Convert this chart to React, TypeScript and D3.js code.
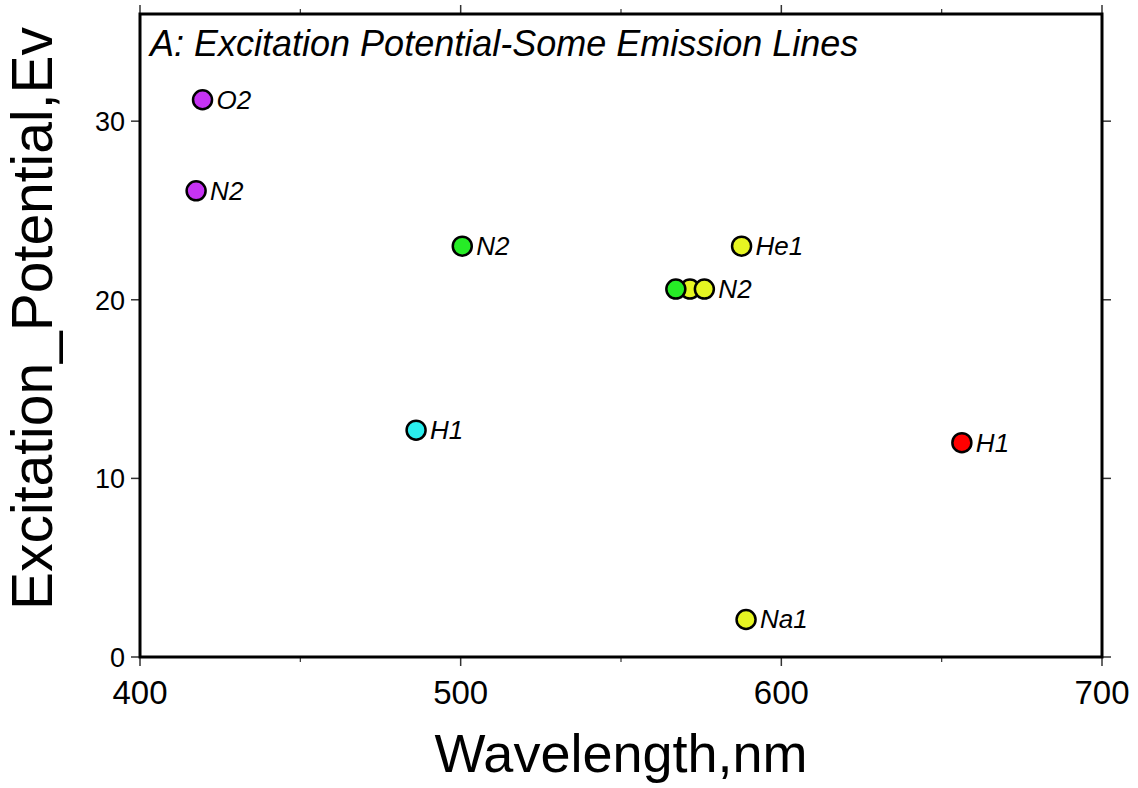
import React from "react";
import * as d3 from "d3";

// Emission lines: wavelength (nm), excitation potential (eV), species label, marker colour
const wavelengths = [419.5, 417.5, 500.5, 486.1, 587.6, 571.5, 567.1, 576.0, 656.3, 589.0];
const potentials = [31.2, 26.1, 23.0, 12.7, 23.0, 20.6, 20.6, 20.6, 12.0, 2.1];
const labels = ["O2", "N2", "N2", "H1", "He1", "", "", "N2", "H1", "Na1"];
const colors = [
  "#c633f3",
  "#c633f3",
  "#26ec26",
  "#2aeeee",
  "#e6f522",
  "#e6f522",
  "#26ec26",
  "#e6f522",
  "#ff0000",
  "#e6f522",
];

const xTicks = [400, 500, 600, 700];
const xMinorTicks = [450, 550, 650];
const yTicks = [0, 10, 20, 30];

const W = 1138;
const H = 788;
const margin = { left: 140, right: 36, top: 14, bottom: 131 };
const FONT = "'Liberation Sans', Arial, Helvetica, sans-serif";

export default function App() {
  const x = d3
    .scaleLinear()
    .domain([400, 700])
    .range([margin.left, W - margin.right]);
  const y = d3
    .scaleLinear()
    .domain([0, 36])
    .range([H - margin.bottom, margin.top]);

  const [x0, x1] = x.range();
  const [y0, y1] = y.range();
  const major = 9;
  const minor = 5;
  const tickStroke = "#333";

  return (
    <svg
      width={W}
      height={H}
      style={{ position: "fixed", left: 0, top: 0, background: "#fff" }}
      fontFamily={FONT}
    >
      {/* ticks on all four sides, pointing outward */}
      {xTicks.map((t) => (
        <g key={"xt" + t}>
          <line x1={x(t)} x2={x(t)} y1={y0} y2={y0 + major} stroke={tickStroke} strokeWidth={1.5} />
          <line x1={x(t)} x2={x(t)} y1={y1} y2={y1 - major} stroke={tickStroke} strokeWidth={1.5} />
          <text x={x(t)} y={y0 + 47} textAnchor="middle" fontSize={33} fill="#000">
            {t}
          </text>
        </g>
      ))}
      {xMinorTicks.map((t) => (
        <g key={"xm" + t}>
          <line x1={x(t)} x2={x(t)} y1={y0} y2={y0 + minor} stroke={tickStroke} strokeWidth={1.2} />
          <line x1={x(t)} x2={x(t)} y1={y1} y2={y1 - minor} stroke={tickStroke} strokeWidth={1.2} />
        </g>
      ))}
      {yTicks.map((t) => (
        <g key={"yt" + t}>
          <line x1={x0} x2={x0 - major} y1={y(t)} y2={y(t)} stroke={tickStroke} strokeWidth={1.5} />
          <line x1={x1} x2={x1 + major} y1={y(t)} y2={y(t)} stroke={tickStroke} strokeWidth={1.5} />
          <text x={x0 - 15} y={y(t) + 10} textAnchor="end" fontSize={27} fill="#000">
            {t}
          </text>
        </g>
      ))}

      {/* frame */}
      <rect
        x={x0}
        y={y1}
        width={x1 - x0}
        height={y0 - y1}
        fill="none"
        stroke="#000"
        strokeWidth={3}
      />

      {/* title */}
      <text x={x0 + 10} y={y1 + 42} fontSize={36} fontStyle="italic" fill="#000">
        A: Excitation Potential-Some Emission Lines
      </text>

      {/* markers and labels */}
      {wavelengths.map((wl, i) => (
        <circle
          key={"c" + i}
          cx={x(wl)}
          cy={y(potentials[i])}
          r={9.5}
          fill={colors[i]}
          stroke="#000"
          strokeWidth={2.5}
        />
      ))}
      {wavelengths.map((wl, i) =>
        labels[i] ? (
          <text
            key={"l" + i}
            x={x(wl) + 14}
            y={y(potentials[i]) + 9}
            fontSize={26}
            fontStyle="italic"
            fill="#000"
          >
            {labels[i]}
          </text>
        ) : null
      )}

      {/* axis titles */}
      <text
        x={(x0 + x1) / 2}
        y={y0 + 115}
        textAnchor="middle"
        fontSize={54}
        fill="#000"
      >
        Wavelength,nm
      </text>
      <text
        transform={`translate(52, ${(y0 + y1) / 2 - 17}) rotate(-90)`}
        textAnchor="middle"
        fontSize={57}
        fill="#000"
      >
        Excitation_Potential,Ev
      </text>
    </svg>
  );
}
